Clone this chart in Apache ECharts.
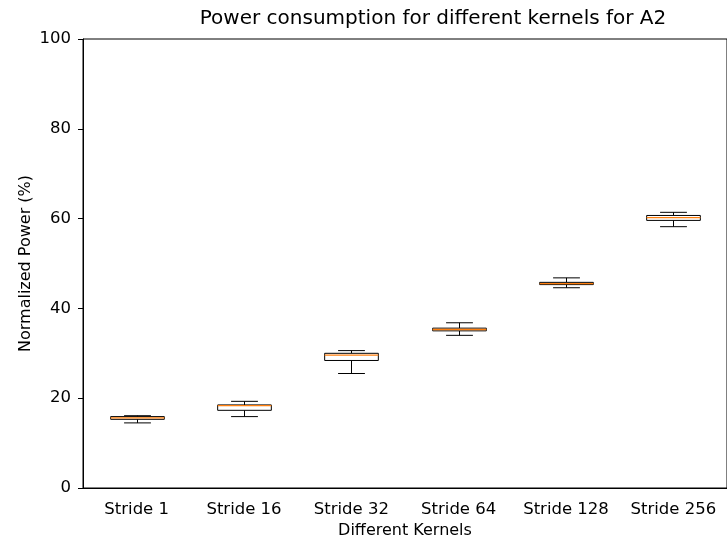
<!DOCTYPE html>
<html>
<head>
<meta charset="utf-8">
<script src="https://cdn.jsdelivr.net/npm/echarts@6/dist/echarts.min.js"></script>
<style>
  html, body { margin: 0; padding: 0; background: #fff; }
  #chart { width: 727px; height: 544px; }
</style>
</head>
<body>
<div id="chart"></div>
<script>
// Kernel categories along the x axis
const kernels = ['Stride 1', 'Stride 16', 'Stride 32', 'Stride 64', 'Stride 128', 'Stride 256'];
// Five-number summaries per kernel (normalized power, %)
const whiskerLow  = [14.5, 15.9, 25.5, 34.0, 44.6, 58.2];
const quartile1   = [15.3, 17.3, 28.4, 35.0, 45.3, 59.6];
const medians     = [15.6, 18.35, 29.6, 35.3, 45.5, 60.2];
const quartile3   = [15.9, 18.5, 30.0, 35.6, 45.8, 60.7];
const whiskerHigh = [16.1, 19.3, 30.6, 36.8, 46.8, 61.4];
const yTicks = [0, 20, 40, 60, 80, 100];

const boxData = kernels.map((k, i) => [i, whiskerLow[i], quartile1[i], medians[i], quartile3[i], whiskerHigh[i]]);

const font = 'DejaVu Sans';
const plotLeft = 83, plotTop = 39, plotWidth = 656, plotHeight = 456;
const chart = echarts.init(document.getElementById('chart'), null, { renderer: 'canvas' });

function renderBox(params, api) {
  const idx = api.value(0);
  const band = api.size([1, 0])[0];
  const halfBox = band * 0.25;
  const halfCap = band * 0.125;
  const pLow = api.coord([idx, api.value(1)]);
  const pQ1 = api.coord([idx, api.value(2)]);
  const pMed = api.coord([idx, api.value(3)]);
  const pQ3 = api.coord([idx, api.value(4)]);
  const pHigh = api.coord([idx, api.value(5)]);
  const cx = Math.round(pMed[0]) + 0.5;
  const line = { stroke: '#000', lineWidth: 1, fill: null };
  return {
    type: 'group',
    children: [
      { type: 'line', shape: { x1: cx, y1: pQ1[1], x2: cx, y2: pLow[1] }, style: line },
      { type: 'line', shape: { x1: cx, y1: pQ3[1], x2: cx, y2: pHigh[1] }, style: line },
      { type: 'line', shape: { x1: cx - halfCap, y1: pLow[1], x2: cx + halfCap, y2: pLow[1] }, style: line },
      { type: 'line', shape: { x1: cx - halfCap, y1: pHigh[1], x2: cx + halfCap, y2: pHigh[1] }, style: line },
      { type: 'rect', shape: { x: cx - halfBox, y: pQ3[1], width: halfBox * 2, height: pQ1[1] - pQ3[1] },
        style: { stroke: '#000', lineWidth: 1, fill: '#fff' } },
      { type: 'line', shape: { x1: cx - halfBox, y1: pMed[1], x2: cx + halfBox, y2: pMed[1] },
        style: { stroke: '#ff7f0e', lineWidth: 1.3 } }
    ]
  };
}

chart.setOption({
  animation: false,
  backgroundColor: '#fff',
  title: {
    text: 'Power consumption for different kernels for A2',
    left: 428, top: 4, textAlign: 'center',
    textStyle: { fontFamily: font, fontSize: 20, fontWeight: 'normal', color: '#000' }
  },
  grid: { left: plotLeft, top: plotTop, width: plotWidth, height: plotHeight, show: true, borderColor: '#000', borderWidth: 1, backgroundColor: 'transparent' },
  xAxis: {
    type: 'category',
    data: kernels,
    boundaryGap: true,
    name: 'Different Kernels',
    nameLocation: 'middle',
    nameGap: 35,
    nameMoveOverlap: false,
    nameTextStyle: { fontFamily: font, fontSize: 16, color: '#000' },
    axisLine: { lineStyle: { color: '#000', width: 1 } },
    axisTick: { alignWithLabel: true, length: 5, lineStyle: { color: '#000' } },
    axisLabel: { interval: 0, fontFamily: font, fontSize: 16.5, color: '#000', margin: 13 },
    splitLine: { show: false }
  },
  yAxis: {
    type: 'value',
    min: 0, max: 100, interval: 20,
    name: 'Normalized Power (%)',
    nameLocation: 'middle',
    nameGap: 49,
    nameMoveOverlap: false,
    nameTextStyle: { fontFamily: font, fontSize: 16, color: '#000' },
    axisLine: { show: true, lineStyle: { color: '#000', width: 1 } },
    axisTick: { show: true, length: 5, lineStyle: { color: '#000' } },
    axisLabel: {
      fontFamily: font, fontSize: 16.5, color: '#000', margin: 12,
      formatter: v => (yTicks.includes(v) ? String(v) : '')
    },
    splitLine: { show: false }
  },
  series: [{
    type: 'custom',
    renderItem: renderBox,
    encode: { x: 0, y: [1, 2, 3, 4, 5] },
    data: boxData
  }]
});
</script>
</body>
</html>
